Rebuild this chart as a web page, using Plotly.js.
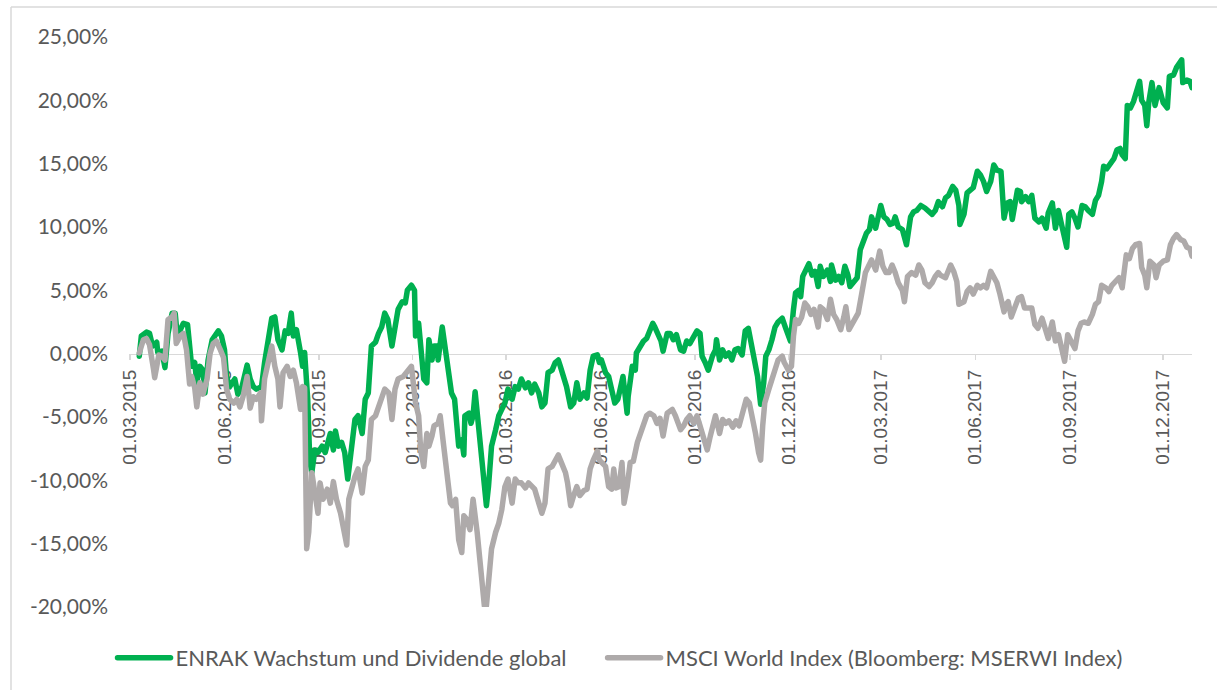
<!DOCTYPE html>
<html><head><meta charset="utf-8">
<script src="https://cdn.plot.ly/plotly-3.0.1.min.js"></script>
<style>html,body{margin:0;padding:0;background:#fff}#chart{width:1217px;height:690px}
#chart path.js-line{stroke-linejoin:round;stroke-linecap:round}</style>
</head><body><div id="chart"></div>
<script>
const seriesNames = ['ENRAK Wachstum und Dividende global', 'MSCI World Index (Bloomberg: MSERWI Index)'];

const enrakDates = ['2015-03-10','2015-03-12','2015-03-17','2015-03-20','2015-03-23','2015-03-27','2015-03-28','2015-04-01','2015-04-04','2015-04-07','2015-04-11','2015-04-14','2015-04-16','2015-04-19','2015-04-22','2015-04-26','2015-04-28','2015-04-30','2015-05-03','2015-05-05','2015-05-08','2015-05-11','2015-05-13','2015-05-16','2015-05-20','2015-05-23','2015-05-26','2015-05-29','2015-06-01','2015-06-03','2015-06-06','2015-06-11','2015-06-14','2015-06-18','2015-06-23','2015-06-26','2015-06-29','2015-07-02','2015-07-07','2015-07-10','2015-07-13','2015-07-17','2015-07-20','2015-07-23','2015-07-27','2015-07-30','2015-08-02','2015-08-05','2015-08-07','2015-08-10','2015-08-14','2015-08-16','2015-08-18','2015-08-21','2015-08-23','2015-08-25','2015-08-28','2015-08-31','2015-09-04','2015-09-07','2015-09-12','2015-09-15','2015-09-17','2015-09-20','2015-09-23','2015-09-26','2015-09-29','2015-10-03','2015-10-06','2015-10-09','2015-10-13','2015-10-16','2015-10-19','2015-10-22','2015-10-26','2015-10-29','2015-11-01','2015-11-04','2015-11-07','2015-11-11','2015-11-14','2015-11-17','2015-11-21','2015-11-24','2015-11-26','2015-11-30','2015-12-03','2015-12-04','2015-12-07','2015-12-09','2015-12-12','2015-12-15','2015-12-17','2015-12-20','2015-12-22','2015-12-25','2015-12-26','2015-12-30','2016-01-02','2016-01-05','2016-01-08','2016-01-11','2016-01-13','2016-01-15','2016-01-18','2016-01-20','2016-01-21','2016-01-25','2016-01-27','2016-01-29','2016-01-31','2016-02-03','2016-02-05','2016-02-08','2016-02-11','2016-02-13','2016-02-16','2016-02-20','2016-02-23','2016-02-26','2016-02-29','2016-03-03','2016-03-07','2016-03-10','2016-03-13','2016-03-16','2016-03-20','2016-03-23','2016-03-26','2016-03-29','2016-04-02','2016-04-05','2016-04-08','2016-04-11','2016-04-15','2016-04-18','2016-04-21','2016-04-23','2016-04-26','2016-04-29','2016-05-03','2016-05-06','2016-05-09','2016-05-12','2016-05-16','2016-05-19','2016-05-22','2016-05-25','2016-05-29','2016-05-31','2016-06-02','2016-06-06','2016-06-09','2016-06-12','2016-06-15','2016-06-18','2016-06-20','2016-06-23','2016-06-27','2016-06-28','2016-07-02','2016-07-05','2016-07-06','2016-07-10','2016-07-13','2016-07-16','2016-07-19','2016-07-22','2016-07-24','2016-07-28','2016-07-30','2016-08-01','2016-08-05','2016-08-08','2016-08-11','2016-08-14','2016-08-18','2016-08-21','2016-08-24','2016-08-27','2016-08-31','2016-09-03','2016-09-06','2016-09-08','2016-09-11','2016-09-14','2016-09-18','2016-09-21','2016-09-22','2016-09-25','2016-09-28','2016-10-01','2016-10-04','2016-10-07','2016-10-10','2016-10-13','2016-10-17','2016-10-20','2016-10-23','2016-10-26','2016-10-29','2016-11-01','2016-11-04','2016-11-07','2016-11-09','2016-11-12','2016-11-15','2016-11-18','2016-11-21','2016-11-25','2016-11-28','2016-12-01','2016-12-03','2016-12-06','2016-12-08','2016-12-11','2016-12-13','2016-12-15','2016-12-17','2016-12-21','2016-12-24','2016-12-27','2016-12-30','2017-01-01','2017-01-04','2017-01-08','2017-01-11','2017-01-12','2017-01-16','2017-01-19','2017-01-22','2017-01-25','2017-01-28','2017-01-30','2017-02-02','2017-02-06','2017-02-09','2017-02-12','2017-02-15','2017-02-18','2017-02-20','2017-02-24','2017-02-27','2017-03-01','2017-03-04','2017-03-07','2017-03-10','2017-03-13','2017-03-15','2017-03-18','2017-03-22','2017-03-24','2017-03-26','2017-03-30','2017-04-02','2017-04-05','2017-04-09','2017-04-13','2017-04-17','2017-04-20','2017-04-23','2017-04-26','2017-04-30','2017-05-03','2017-05-06','2017-05-10','2017-05-13','2017-05-16','2017-05-17','2017-05-21','2017-05-24','2017-05-27','2017-05-30','2017-06-03','2017-06-06','2017-06-09','2017-06-12','2017-06-16','2017-06-19','2017-06-22','2017-06-26','2017-06-29','2017-07-02','2017-07-05','2017-07-07','2017-07-12','2017-07-15','2017-07-16','2017-07-20','2017-07-23','2017-07-26','2017-07-29','2017-08-02','2017-08-05','2017-08-09','2017-08-11','2017-08-15','2017-08-18','2017-08-21','2017-08-24','2017-08-26','2017-08-29','2017-08-31','2017-09-03','2017-09-06','2017-09-09','2017-09-13','2017-09-16','2017-09-19','2017-09-23','2017-09-26','2017-09-29','2017-10-02','2017-10-04','2017-10-07','2017-10-10','2017-10-14','2017-10-17','2017-10-20','2017-10-22','2017-10-25','2017-10-27','2017-10-30','2017-11-02','2017-11-05','2017-11-08','2017-11-10','2017-11-13','2017-11-15','2017-11-17','2017-11-20','2017-11-23','2017-11-27','2017-12-01','2017-12-05','2017-12-07','2017-12-11','2017-12-14','2017-12-19','2017-12-20','2017-12-24','2017-12-27','2017-12-29'];
const enrakValues = [-0.2,1.4,1.7,1.6,0.6,0.9,0.1,0.2,-1.1,1.6,3.2,3.2,1.4,1.9,2.4,2.3,0.8,-1.0,-0.7,-2.3,-1.0,-1.3,-3.1,-0.5,1.1,1.5,1.8,1.4,0.3,-1.8,-2.6,-2.0,-3.2,-2.6,-0.9,-2.0,-2.6,-2.8,-2.6,-0.7,1.1,2.8,2.9,1.1,0.3,1.8,1.6,3.2,1.4,1.9,0.1,-1.0,0.1,-3.6,-8.4,-9.4,-7.6,-7.8,-7.3,-7.8,-6.3,-7.6,-6.1,-7.3,-7.0,-7.8,-9.9,-7.6,-5.2,-4.9,-6.3,-3.6,-3.1,0.6,0.9,1.6,2.1,3.2,2.7,0.6,2.4,3.5,4.1,4.0,5.0,5.4,5.0,1.4,2.4,0.1,-2.0,-2.3,1.1,-0.5,0.6,0.6,-0.5,2.1,0.3,-1.0,-3.1,-3.6,-5.2,-7.3,-6.8,-8.0,-4.9,-4.7,-5.5,-4.9,-3.0,-5.5,-8.1,-10.2,-12.0,-10.5,-7.3,-6.0,-4.9,-4.4,-3.9,-2.8,-3.6,-2.6,-2.8,-2.0,-2.7,-2.3,-3.1,-2.4,-3.1,-4.2,-3.9,-1.5,-1.3,-0.7,-0.5,-1.0,-1.8,-2.6,-4.2,-3.9,-2.3,-3.6,-3.1,-3.5,-1.3,-0.2,-0.1,-0.7,-0.5,-1.5,-1.8,-2.8,-3.9,-3.6,-2.8,-1.8,-4.7,-3.4,-1.0,-1.3,0.05,0.6,1.0,1.2,1.8,2.4,2.1,1.5,1.0,0.2,1.6,1.6,1.1,1.5,0.3,0.2,1.0,0.8,1.5,1.8,1.6,-0.2,-0.7,-1.3,-0.2,0.3,1.1,-0.5,0.3,-0.2,0.05,-0.5,0.3,0.4,-0.1,1.8,2.0,0.8,-0.2,-1.8,-4.0,-2.3,-0.2,0.3,1.1,2.1,2.5,2.8,2.1,1.4,1.0,3.5,4.8,5.0,4.5,6.1,6.4,7.1,6.2,6.5,5.3,6.9,6.1,6.6,5.7,7.0,5.8,6.1,5.6,6.9,6.2,5.3,5.6,6.0,8.2,8.9,9.5,9.8,10.8,9.9,11.1,11.7,10.8,10.6,10.2,10.3,10.8,10.0,9.8,9.2,8.6,10.8,11.2,11.3,11.7,11.5,11.2,11.0,11.3,12.0,11.6,12.3,12.5,13.2,12.9,11.7,10.2,11.0,12.7,12.9,13.1,14.4,14.1,13.6,12.8,13.6,14.9,14.5,14.4,10.7,11.9,12.0,10.6,12.9,12.8,12.0,12.4,12.0,12.5,10.7,10.4,10.7,9.9,11.1,11.9,9.9,11.3,10.2,9.6,8.4,11.0,11.2,10.7,10.0,11.7,11.6,11.3,11.0,12.1,12.5,13.6,14.8,14.6,15.0,15.4,16.1,16.2,15.7,15.4,19.6,19.4,19.9,20.9,21.5,20.0,19.6,18.0,19.9,21.4,19.6,21.0,19.8,19.4,21.9,22.0,22.6,23.2,21.4,21.6,21.5,21.0];

const msciDates = ['2015-03-10','2015-03-14','2015-03-17','2015-03-20','2015-03-24','2015-03-25','2015-03-29','2015-04-01','2015-04-04','2015-04-07','2015-04-11','2015-04-13','2015-04-15','2015-04-19','2015-04-22','2015-04-25','2015-04-28','2015-04-30','2015-05-03','2015-05-05','2015-05-08','2015-05-11','2015-05-15','2015-05-18','2015-05-21','2015-05-24','2015-05-28','2015-05-31','2015-06-03','2015-06-06','2015-06-10','2015-06-13','2015-06-16','2015-06-19','2015-06-23','2015-06-26','2015-06-29','2015-07-02','2015-07-06','2015-07-07','2015-07-10','2015-07-14','2015-07-17','2015-07-20','2015-07-23','2015-07-25','2015-07-28','2015-08-01','2015-08-04','2015-08-07','2015-08-10','2015-08-14','2015-08-16','2015-08-18','2015-08-20','2015-08-22','2015-08-25','2015-08-28','2015-08-31','2015-09-02','2015-09-05','2015-09-09','2015-09-12','2015-09-15','2015-09-18','2015-09-22','2015-09-25','2015-09-28','2015-09-30','2015-10-03','2015-10-06','2015-10-09','2015-10-13','2015-10-16','2015-10-19','2015-10-22','2015-10-26','2015-10-29','2015-11-01','2015-11-04','2015-11-08','2015-11-11','2015-11-14','2015-11-17','2015-11-22','2015-11-27','2015-11-30','2015-12-04','2015-12-07','2015-12-09','2015-12-12','2015-12-15','2015-12-17','2015-12-20','2015-12-22','2015-12-26','2015-12-28','2015-12-31','2016-01-03','2016-01-07','2016-01-09','2016-01-12','2016-01-15','2016-01-18','2016-01-20','2016-01-23','2016-01-26','2016-01-29','2016-02-02','2016-02-05','2016-02-07','2016-02-09','2016-02-11','2016-02-14','2016-02-16','2016-02-20','2016-02-23','2016-02-26','2016-02-29','2016-03-03','2016-03-07','2016-03-10','2016-03-13','2016-03-16','2016-03-20','2016-03-23','2016-03-26','2016-03-29','2016-04-02','2016-04-05','2016-04-08','2016-04-11','2016-04-15','2016-04-18','2016-04-21','2016-04-24','2016-04-28','2016-04-30','2016-05-03','2016-05-06','2016-05-09','2016-05-12','2016-05-16','2016-05-19','2016-05-22','2016-05-25','2016-05-29','2016-05-31','2016-06-02','2016-06-06','2016-06-09','2016-06-12','2016-06-14','2016-06-16','2016-06-19','2016-06-22','2016-06-24','2016-06-27','2016-06-30','2016-07-03','2016-07-07','2016-07-10','2016-07-13','2016-07-16','2016-07-19','2016-07-23','2016-07-26','2016-07-29','2016-08-01','2016-08-05','2016-08-10','2016-08-13','2016-08-18','2016-08-21','2016-08-24','2016-08-27','2016-08-31','2016-09-03','2016-09-06','2016-09-09','2016-09-13','2016-09-16','2016-09-19','2016-09-21','2016-09-25','2016-09-28','2016-10-01','2016-10-04','2016-10-08','2016-10-11','2016-10-14','2016-10-17','2016-10-21','2016-10-24','2016-10-27','2016-10-30','2016-11-02','2016-11-04','2016-11-06','2016-11-08','2016-11-12','2016-11-15','2016-11-18','2016-11-21','2016-11-25','2016-11-27','2016-12-01','2016-12-04','2016-12-06','2016-12-08','2016-12-11','2016-12-14','2016-12-17','2016-12-20','2016-12-23','2016-12-26','2016-12-30','2017-01-01','2017-01-04','2017-01-08','2017-01-11','2017-01-14','2017-01-17','2017-01-21','2017-01-24','2017-01-26','2017-01-29','2017-02-01','2017-02-04','2017-02-07','2017-02-11','2017-02-14','2017-02-17','2017-02-20','2017-02-24','2017-02-28','2017-03-03','2017-03-06','2017-03-09','2017-03-12','2017-03-15','2017-03-18','2017-03-22','2017-03-24','2017-03-27','2017-03-31','2017-04-04','2017-04-07','2017-04-10','2017-04-13','2017-04-17','2017-04-20','2017-04-23','2017-04-26','2017-04-28','2017-05-03','2017-05-08','2017-05-11','2017-05-14','2017-05-16','2017-05-21','2017-05-24','2017-05-27','2017-05-30','2017-06-03','2017-06-06','2017-06-09','2017-06-12','2017-06-16','2017-06-19','2017-06-22','2017-06-25','2017-06-29','2017-07-01','2017-07-03','2017-07-06','2017-07-09','2017-07-13','2017-07-16','2017-07-19','2017-07-22','2017-07-26','2017-07-29','2017-08-01','2017-08-05','2017-08-08','2017-08-11','2017-08-15','2017-08-18','2017-08-21','2017-08-24','2017-08-27','2017-08-30','2017-09-02','2017-09-06','2017-09-09','2017-09-12','2017-09-15','2017-09-19','2017-09-23','2017-09-26','2017-09-29','2017-10-02','2017-10-06','2017-10-09','2017-10-12','2017-10-15','2017-10-19','2017-10-22','2017-10-23','2017-10-26','2017-10-29','2017-11-01','2017-11-04','2017-11-08','2017-11-10','2017-11-13','2017-11-15','2017-11-18','2017-11-22','2017-11-24','2017-11-27','2017-12-01','2017-12-05','2017-12-08','2017-12-11','2017-12-14','2017-12-18','2017-12-21','2017-12-24','2017-12-27','2017-12-29'];
const msciValues = [0.05,1.1,1.2,0.7,-1.3,-1.9,-0.1,-0.2,-0.5,2.7,2.9,3.2,0.8,1.4,1.6,0.3,-2.4,-1.8,-2.7,-4.2,-2.3,-3.2,-2.0,0.05,0.8,1.0,0.3,-0.3,-2.8,-3.6,-3.9,-3.6,-4.2,-3.4,-1.8,-4.3,-3.4,-3.6,-3.1,-5.3,-2.0,-0.6,0.6,-1.0,-2.0,-4.2,-1.5,-1.0,-1.8,-1.3,-2.3,-4.4,-2.6,-2.7,-15.4,-14.1,-9.4,-11.0,-12.6,-10.2,-11.5,-10.7,-11.8,-10.1,-11.5,-12.6,-14.1,-15.1,-11.5,-10.5,-9.7,-9.1,-11.0,-8.9,-8.4,-5.2,-4.9,-4.2,-3.6,-2.8,-3.1,-5.2,-2.8,-2.0,-1.8,-1.3,-1.0,-3.9,-4.9,-7.6,-8.9,-6.3,-7.3,-6.5,-5.7,-5.5,-4.9,-7.0,-9.1,-11.8,-12.0,-11.5,-14.7,-15.7,-12.8,-13.1,-13.9,-11.5,-14.1,-16.2,-18.1,-19.9,-19.9,-17.0,-15.4,-14.1,-13.4,-12.3,-10.5,-9.9,-11.8,-9.9,-10.2,-10.2,-10.6,-10.2,-10.5,-10.7,-11.8,-12.6,-11.8,-9.1,-8.9,-8.4,-8.0,-8.6,-9.4,-10.2,-12.0,-11.2,-10.5,-11.2,-10.8,-10.7,-9.1,-8.4,-7.7,-8.4,-8.6,-8.9,-10.5,-10.7,-9.1,-10.6,-10.5,-8.6,-11.8,-10.5,-8.6,-8.5,-7.0,-6.3,-5.7,-4.9,-4.7,-4.9,-5.5,-5.1,-6.5,-4.7,-4.4,-4.9,-6.0,-5.7,-5.2,-4.9,-5.5,-4.9,-5.7,-6.5,-7.6,-6.5,-5.7,-4.9,-6.3,-5.2,-5.5,-5.3,-5.8,-5.3,-5.7,-4.7,-3.6,-3.9,-4.9,-6.3,-7.8,-8.4,-5.7,-3.9,-2.8,-2.0,-1.3,-0.5,-0.2,-0.7,-1.3,-1.0,1.4,2.7,2.4,2.9,4.0,3.7,3.1,3.5,2.1,3.7,3.5,2.7,4.3,3.1,2.7,1.9,2.9,3.7,1.9,2.4,2.9,3.2,5.0,6.4,6.9,7.4,6.6,8.1,6.9,6.4,6.4,7.0,6.4,5.6,5.0,4.1,6.1,6.4,6.2,7.0,6.6,5.6,5.3,5.6,6.1,6.4,6.2,6.0,7.0,6.5,5.7,3.9,4.1,4.9,5.2,4.7,5.4,5.2,5.4,5.2,6.5,6.1,5.6,4.7,3.3,3.9,4.1,2.9,3.6,4.4,4.5,3.6,3.6,3.6,2.3,2.0,2.8,1.8,1.2,2.5,1.0,1.5,0.4,-0.6,1.5,1.0,0.4,1.8,2.4,2.5,2.4,3.1,3.9,4.1,5.4,5.2,4.9,5.4,5.7,6.0,5.2,6.0,7.8,7.5,8.3,8.6,8.7,6.8,6.2,5.2,7.3,7.0,6.0,7.0,7.3,7.4,8.6,9.1,9.4,9.0,8.9,8.4,8.3,7.7];

const xTickDates = ['2015-03-01','2015-06-01','2015-09-01','2015-12-01','2016-03-01','2016-06-01','2016-09-01','2016-12-01','2017-03-01','2017-06-01','2017-09-01','2017-12-01'];
const xTickLabels = ['01.03.2015','01.06.2015','01.09.2015','01.12.2015','01.03.2016','01.06.2016','01.09.2016','01.12.2016','01.03.2017','01.06.2017','01.09.2017','01.12.2017'];
const yTickValues = [-20,-15,-10,-5,0,5,10,15,20,25];
const yTickLabels = ['-20,00%','-15,00%','-10,00%','-5,00%','0,00%','5,00%','10,00%','15,00%','20,00%','25,00%'];

const data = [
  {x: enrakDates, y: enrakValues, name: seriesNames[0], type: 'scatter', mode: 'lines',
   line: {color: '#00b050', width: 5.5}, legend: 'legend'},
  {x: msciDates, y: msciValues, name: seriesNames[1], type: 'scatter', mode: 'lines',
   line: {color: '#aeaaaa', width: 5.5}, legend: 'legend2'}
];

const legendFont = {family: 'Lato, sans-serif', size: 22, color: '#595959'};

const layout = {
  width: 1217, height: 690,
  margin: {l: 129, r: 25, t: 37, b: 82},
  paper_bgcolor: '#ffffff', plot_bgcolor: '#ffffff',
  showlegend: true,
  xaxis: {
    type: 'date', range: ['2015-02-28', '2017-12-29'],
    anchor: 'free', position: 20/45,
    showline: true, linecolor: '#d9d9d9', linewidth: 1.5,
    ticks: 'outside', ticklen: 5, tickcolor: '#d9d9d9', tickwidth: 1.5,
    tickmode: 'array', tickvals: xTickDates, ticktext: xTickLabels,
    tickangle: -90, ticklabelstandoff: 2,
    tickfont: {family: 'Liberation Sans, Arial, sans-serif', size: 19, color: '#595959'},
    showgrid: false, zeroline: false, layer: 'below traces'
  },
  yaxis: {
    range: [-20, 25], tickmode: 'array', tickvals: yTickValues, ticktext: yTickLabels,
    showgrid: false, zeroline: false, showline: false, ticks: '',
    ticklabelstandoff: 20,
    tickfont: {family: 'Lato, sans-serif', size: 21, color: '#595959'}
  },
  legend: {
    orientation: 'h', x: -0.0155, xanchor: 'left', y: -0.0876, yanchor: 'middle',
    font: legendFont, itemwidth: 53, bgcolor: 'rgba(0,0,0,0)'
  },
  legend2: {
    orientation: 'h', x: 0.4455, xanchor: 'left', y: -0.0876, yanchor: 'middle',
    font: legendFont, itemwidth: 53, bgcolor: 'rgba(0,0,0,0)'
  },
  shapes: [
    {type: 'line', xref: 'paper', yref: 'paper', x0: -0.111, x1: -0.111, y0: 1.0525, y1: -0.2,
     line: {color: '#d9d9d9', width: 1.5}},
    {type: 'line', xref: 'paper', yref: 'paper', x0: -0.111, x1: 1.1, y0: 1.0525, y1: 1.0525,
     line: {color: '#d9d9d9', width: 1.5}}
  ]
};

Plotly.newPlot('chart', data, layout, {displayModeBar: false, staticPlot: true});
</script>
</body></html>
